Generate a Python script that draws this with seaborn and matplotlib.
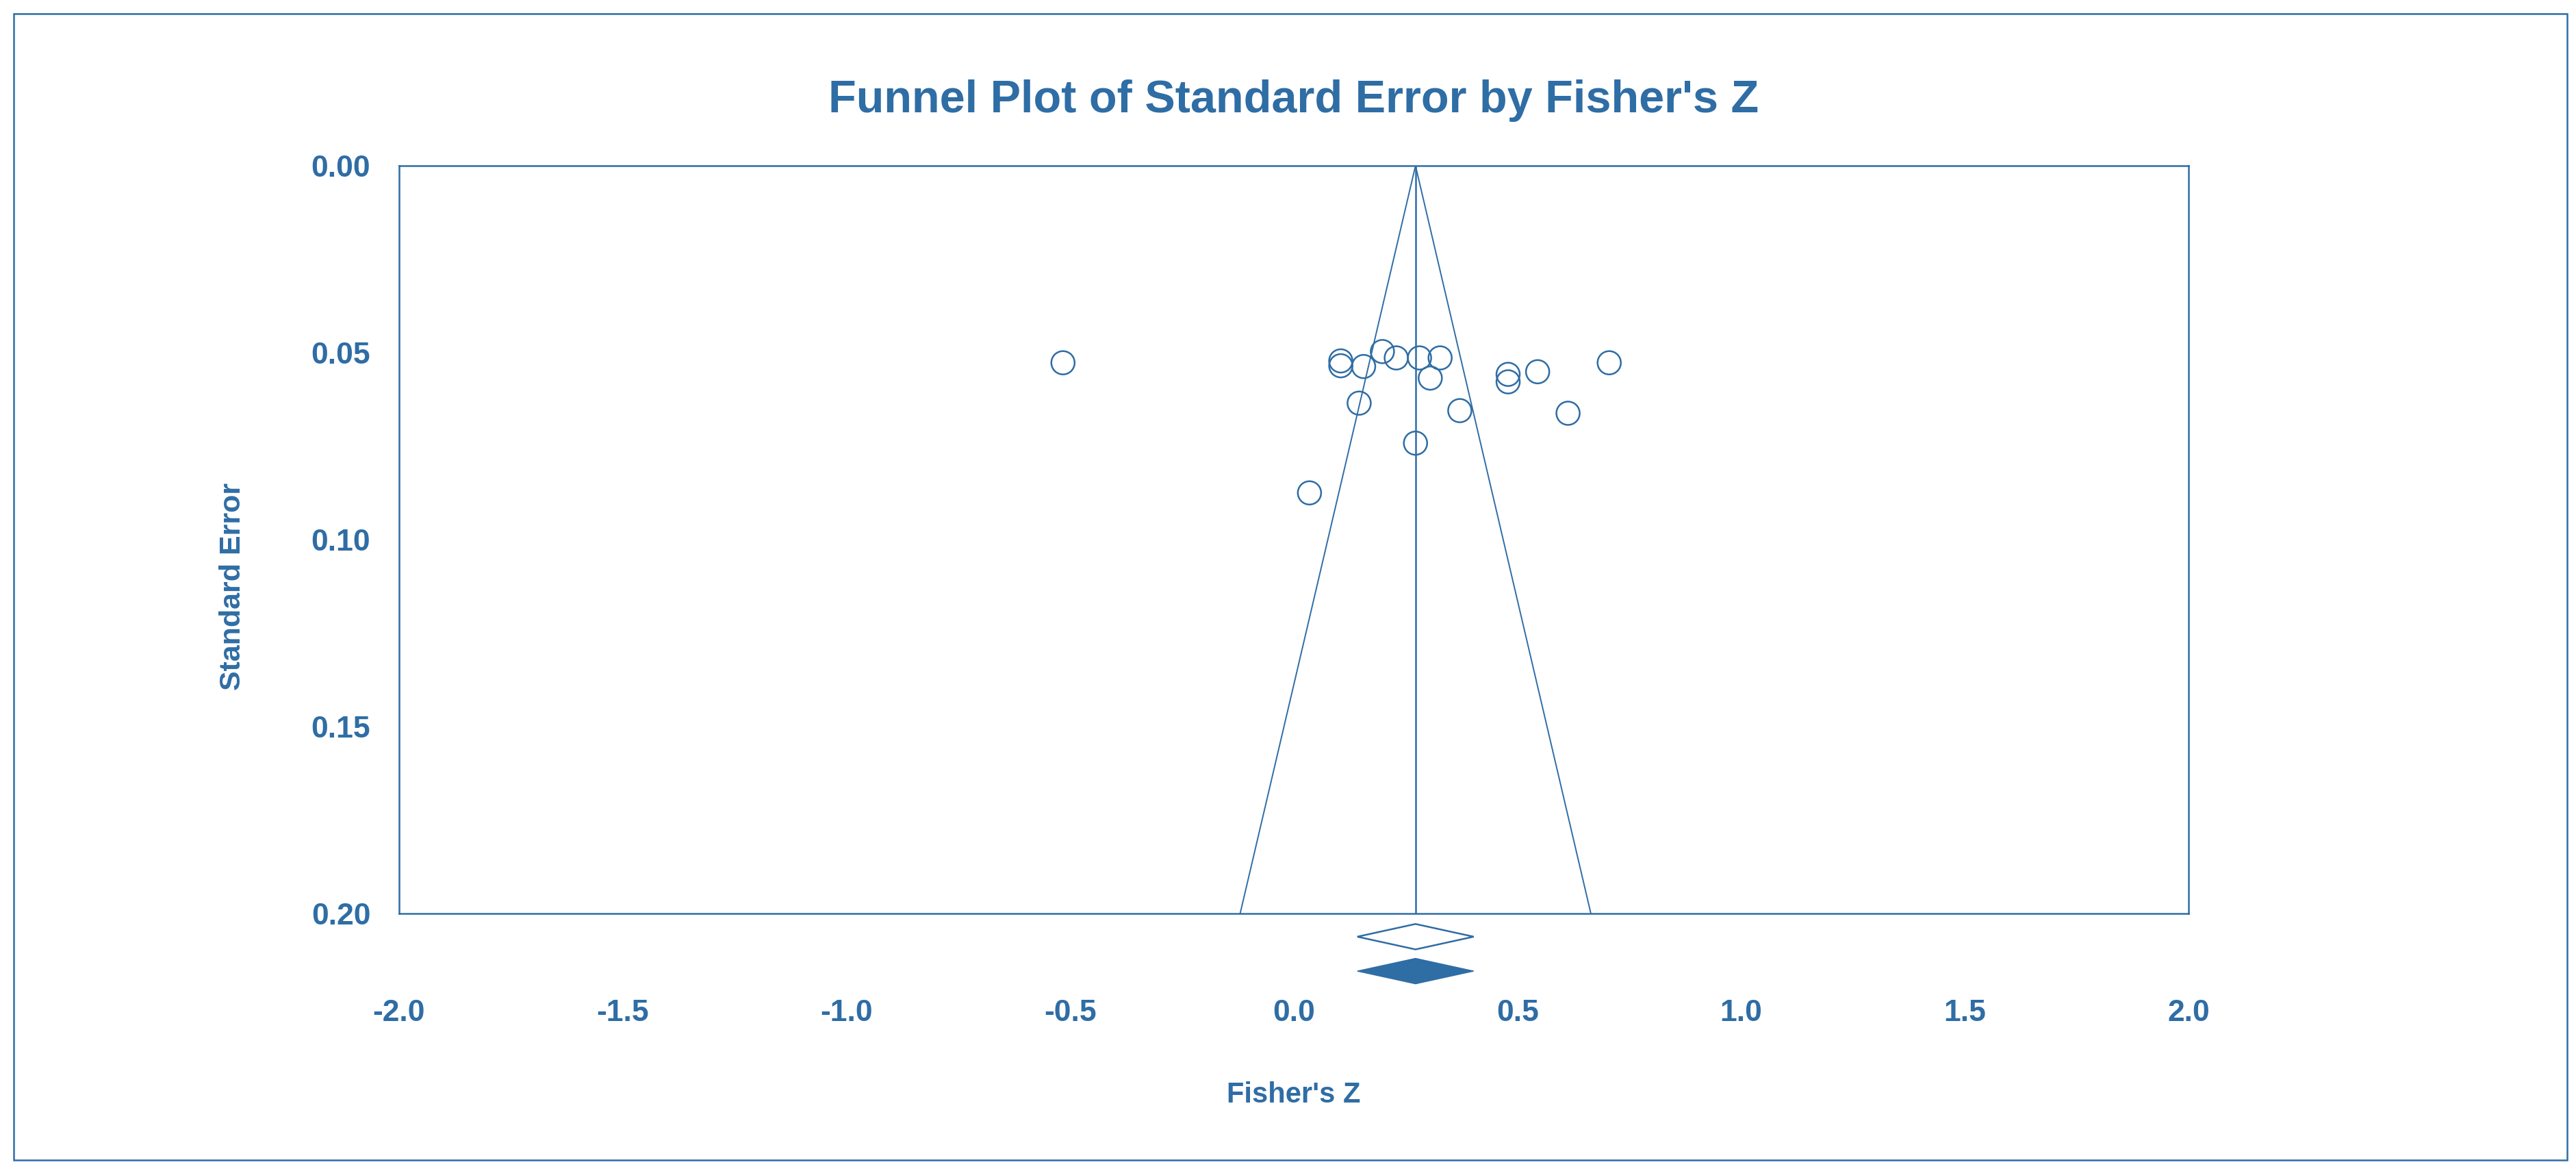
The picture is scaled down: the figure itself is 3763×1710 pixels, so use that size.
import numpy as np
import pandas as pd
import matplotlib
matplotlib.use("Agg")
import matplotlib.pyplot as plt
from matplotlib.patches import Rectangle
from matplotlib.ticker import FormatStrFormatter
import seaborn as sns

# study-level effects
fisher_z = [-0.516, 0.105, 0.105, 0.156, 0.198, 0.229, 0.281, 0.327, 0.305,
            0.479, 0.479, 0.545, 0.705, 0.146, 0.371, 0.613, 0.272, 0.035]
std_err = [0.0527, 0.0522, 0.0535, 0.0537, 0.0497, 0.0514, 0.0514, 0.0514, 0.0568,
           0.0558, 0.0578, 0.0551, 0.0527, 0.0635, 0.0655, 0.0662, 0.0742, 0.0875]

# pooled estimates (observed = open diamond, adjusted = filled diamond)
pooled_z = 0.272
pooled_low = 0.142
pooled_high = 0.402
adjusted_z = 0.272
adjusted_low = 0.142
adjusted_high = 0.402

se_max = 0.20
z_crit = 1.96
x_ticks = [-2.0, -1.5, -1.0, -0.5, 0.0, 0.5, 1.0, 1.5, 2.0]
y_ticks = [0.00, 0.05, 0.10, 0.15, 0.20]

blue = "#2F6DA5"

df = pd.DataFrame({"z": fisher_z, "se": std_err})

sns.set_style("white")
plt.rcParams["font.family"] = ["Liberation Sans", "DejaVu Sans"]
plt.rcParams["axes.unicode_minus"] = False

W, H = 3763, 1710
fig = plt.figure(figsize=(W / 100, H / 100), dpi=100)
ax = fig.add_axes([583 / W, 1 - 1334 / H, (3197 - 583) / W, (1334 - 242) / H])

# outer frame
fig.patches.append(Rectangle((20 / W, 1 - 1694 / H), (3750 - 20) / W, (1694 - 20) / H,
                             transform=fig.transFigure, fill=False, edgecolor=blue,
                             linewidth=1.8, zorder=0))

# funnel and centre line
ax.plot([pooled_z - z_crit * se_max, pooled_z, pooled_z + z_crit * se_max],
        [se_max, 0, se_max], color=blue, linewidth=1.4)
ax.plot([pooled_z, pooled_z], [0, se_max], color=blue, linewidth=1.8)

sns.scatterplot(data=df, x="z", y="se", ax=ax, marker="o", s=600,
                facecolor="none", edgecolor=blue, linewidth=1.8, zorder=3)

# diamonds below the axis
def diamond(lo, mid, hi, yc, filled):
    h = 0.0034
    xs = [lo, mid, hi, mid, lo]
    ys = [yc, yc - h, yc, yc + h, yc]
    if filled:
        ax.fill(xs, ys, color=blue, clip_on=False, linewidth=1)
    else:
        ax.fill(xs, ys, facecolor="white", edgecolor=blue, clip_on=False, linewidth=1.8)

diamond(pooled_low, pooled_z, pooled_high, 0.2062, False)
diamond(adjusted_low, adjusted_z, adjusted_high, 0.2154, True)

ax.set_xlim(-2, 2)
ax.set_ylim(se_max, 0)
ax.set_xticks(x_ticks)
ax.set_yticks(y_ticks)
ax.xaxis.set_major_formatter(FormatStrFormatter("%.1f"))
ax.yaxis.set_major_formatter(FormatStrFormatter("%.2f"))

for s in ax.spines.values():
    s.set_color(blue)
    s.set_linewidth(1.8)

ax.tick_params(axis="x", direction="inout", length=16, width=2, color=blue,
               pad=82, labelsize=32, labelcolor=blue)
ax.tick_params(axis="y", length=0, pad=30, labelsize=32, labelcolor=blue)
for lab in ax.get_xticklabels() + ax.get_yticklabels():
    lab.set_fontweight("bold")

ax.set_xlabel("Fisher's Z", fontsize=30, fontweight="bold", color=blue)
ax.xaxis.label.set_va("center")
ax.xaxis.set_label_coords(0.5, -0.2427)
ax.set_ylabel("Standard Error", fontsize=31, fontweight="bold", color=blue)
ax.yaxis.label.set_va("center")
ax.yaxis.set_label_coords(-0.093, 0.437)

ax.set_title("Funnel Plot of Standard Error by Fisher's Z", fontsize=48,
             fontweight="bold", color=blue, pad=56)

fig.savefig("out.png", dpi=100)
